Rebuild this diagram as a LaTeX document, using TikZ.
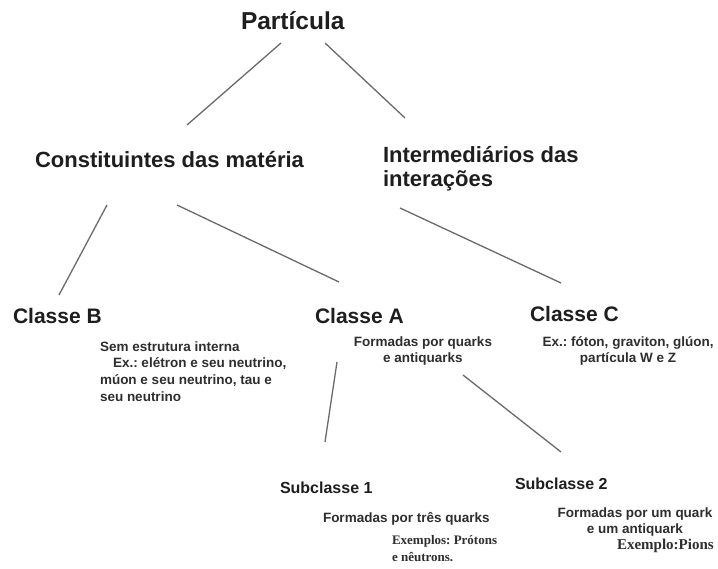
\documentclass[tikz,border=0pt]{standalone}
\usepackage{fontspec}
\setmainfont{Liberation Sans}
\newfontfamily\timesb{Liberation Serif}
\frenchspacing
\newcommand\mytab[2]{\begin{tabular}[t]{@{}#1@{}}#2\end{tabular}}
\definecolor{txt}{HTML}{1E1E1E}
\definecolor{stxt}{HTML}{2E2E2E}
\definecolor{ln}{HTML}{6A6A6A}
\tikzset{
  lbl/.style={inner sep=0pt, outer sep=0pt, anchor=base west, text=txt},
  big/.style={lbl, font=\fontsize{24.5}{28}\selectfont\bfseries},
  mid/.style={lbl, font=\fontsize{22}{24}\selectfont\bfseries},
  cls/.style={lbl, font=\fontsize{21}{24}\selectfont\bfseries},
  subc/.style={lbl, font=\fontsize{16}{19}\selectfont\bfseries},
  desc/.style={lbl, text=stxt, font=\fontsize{13.5}{16.7}\selectfont\bfseries},
  exm/.style={lbl, text=stxt, font=\timesb\fontsize{13}{17}\selectfont\bfseries},
  link/.style={draw=ln, line width=1.3pt}
}
\begin{document}
\begin{tikzpicture}[x=1pt, y=-1pt]
\useasboundingbox[fill=white] (0,0) rectangle (718,568);

% texts
\node[big] (part) at (241,29) {Partícula};
\node[mid] (const) at (35,167) {Constituintes das matéria};
\node[mid] (inter) at (383,162) {\mytab{l}{Intermediários das\\interações}};
\node[cls] (clB) at (13,323) {Classe B};
\node[cls] (clA) at (315,323) {Classe A};
\node[cls] (clC) at (530,321) {Classe C};
\node[desc] (dB) at (100,351) {\mytab{l}{Sem estrutura interna\\\hspace{13pt}Ex.: elétron e seu neutrino,\\múon e seu neutrino, tau e\\seu neutrino}};
\node[desc, anchor=base] (dA) at (423,346) {\mytab{c}{Formadas por quarks\\e antiquarks}};
\node[desc, anchor=base] (dC) at (628,346) {\mytab{c}{Ex.: fóton, graviton, glúon,\\partícula W e Z}};
\node[subc] (s1) at (280,493) {Subclasse 1};
\node[subc] (s2) at (515,489) {Subclasse 2};
\node[desc] (d1) at (323,522) {Formadas por três quarks};
\node[exm] (e1) at (392,544) {\mytab{l}{Exemplos: Prótons\\e nêutrons.}};
\node[desc, anchor=base] (d2) at (635,517) {\mytab{c}{Formadas por um quark\\e um antiquark}};
\node[exm, font=\timesb\fontsize{15}{17}\selectfont\bfseries] (e2) at (617,549) {Exemplo:Pions};

% connector ends
\coordinate (pL) at (281,43);  \coordinate (cT) at (187,125);
\coordinate (pR) at (325,43);  \coordinate (iT) at (405,118);
\coordinate (cL) at (107,205); \coordinate (bT) at (59,295);
\coordinate (cR) at (177,205); \coordinate (aT) at (339,282);
\coordinate (iB) at (400,208); \coordinate (ccT) at (561,283);
\coordinate (aL) at (337,362); \coordinate (s1T) at (325,442);
\coordinate (aR) at (463,375); \coordinate (s2T) at (561,452);

\draw[link] (pL) -- (cT);
\draw[link] (pR) -- (iT);
\draw[link] (cL) -- (bT);
\draw[link] (cR) -- (aT);
\draw[link] (iB) -- (ccT);
\draw[link] (aL) -- (s1T);
\draw[link] (aR) -- (s2T);
\end{tikzpicture}
\end{document}
